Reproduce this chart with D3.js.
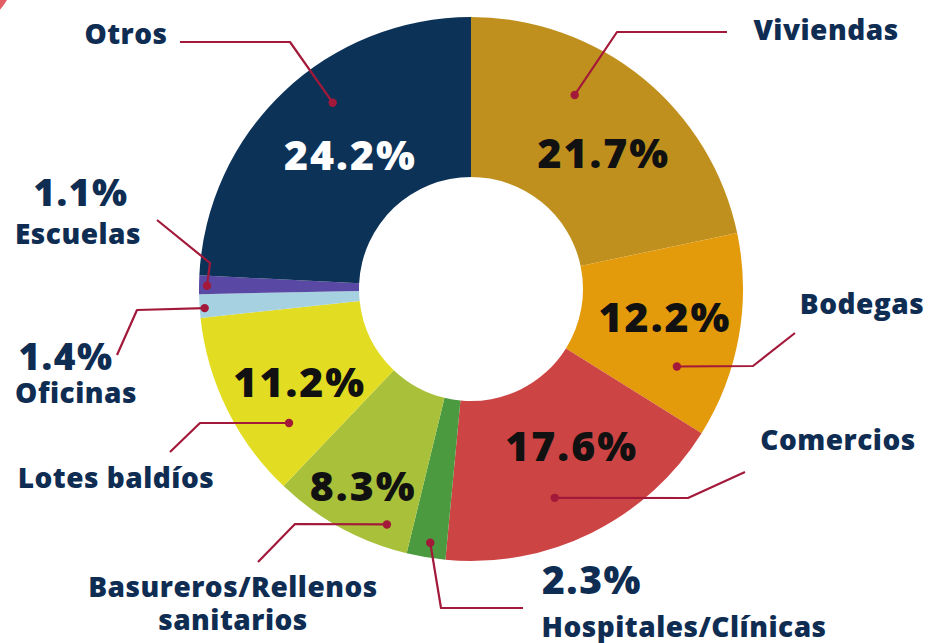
<!DOCTYPE html>
<html>
<head>
<meta charset="utf-8">
<script src="https://cdn.jsdelivr.net/npm/d3@7"></script>
<style>
  html, body { margin: 0; padding: 0; background: #fff; }
  svg { display: block; }
  text { font-family: "Open Sans", Lato, sans-serif; font-weight: 800; }
</style>
</head>
<body>
<svg id="chart"></svg>
<script>
// slice data, clockwise from 12 o'clock
const categories = ["Viviendas", "Bodegas", "Comercios", "Hospitales/Clínicas",
  "Basureros/Rellenos sanitarios", "Lotes baldíos", "Oficinas", "Escuelas", "Otros"];
const values = [21.7, 12.2, 17.6, 2.3, 8.3, 11.2, 1.4, 1.1, 24.2];
const colors = ["#c0901f", "#e39a0b", "#cd4444", "#4b9a3f", "#a8c03a",
  "#e2dc22", "#a6d1e0", "#5a48a5", "#0c3258"];

const width = 930;
const height = 643;
const cx = 471, cy = 289;
const outerR = 272, innerR = 112;

const navy = "#0f2d52";
const leader = "#a3193a";

const svg = d3.select('#chart')
  .attr('width', width)
  .attr('height', height);

// little red arc peeking in at the top-left corner
svg.append('circle')
  .attr('cx', -60).attr('cy', -40).attr('r', 75)
  .attr('fill', 'none')
  .attr('stroke', '#d9363e')
  .attr('stroke-width', 6)
  .attr('opacity', 0.8);

const pie = d3.pie().sort(null).value(d => d.value);
const arcs = pie(categories.map((c, i) => ({ name: c, value: values[i], color: colors[i] })));

const arc = d3.arc().innerRadius(innerR).outerRadius(outerR);

const g = svg.append('g').attr('transform', `translate(${cx},${cy})`);

g.selectAll('path.slice')
  .data(arcs)
  .enter()
  .append('path')
  .attr('class', 'slice')
  .attr('d', arc)
  .attr('fill', d => d.data.color);

// point on the ring: t = fraction along slice, r = radius
function polar(d, t, r) {
  const a = d.startAngle + (d.endAngle - d.startAngle) * t;
  return [r * Math.sin(a), -r * Math.cos(a)];
}

// percentage labels inside the ring (radius + angle nudge in degrees)
const pctLayout = {
  "Viviendas": { r: 190, nudge: 5.3, fill: "#111" },
  "Bodegas": { r: 196, nudge: -1.9, fill: "#111" },
  "Comercios": { r: 187, nudge: -6.3, fill: "#111" },
  "Basureros/Rellenos sanitarios": { r: 225, nudge: 0, fill: "#111" },
  "Lotes baldíos": { r: 195, nudge: -2.3, fill: "#111" },
  "Otros": { r: 180, nudge: 1.5, fill: "#fff" }
};

const fmt = v => v.toFixed(1) + "%";

g.selectAll('text.pct')
  .data(arcs.filter(d => pctLayout[d.data.name]))
  .enter()
  .append('text')
  .attr('class', 'pct')
  .attr('transform', d => {
    const L = pctLayout[d.data.name];
    const a = (d.startAngle + d.endAngle) / 2 + L.nudge * Math.PI / 180;
    return `translate(${L.r * Math.sin(a)},${-L.r * Math.cos(a)})`;
  })
  .attr('dy', '0.36em')
  .attr('text-anchor', 'middle')
  .style('font-size', '41px')
  .style('letter-spacing', '2px')
  .style('fill', d => pctLayout[d.data.name].fill)
  .text(d => fmt(d.data.value));

// leader lines: dot on slice (t, r), then bends in absolute page coords
const leaders = {
  "Viviendas": { t: 0.36, r: 220, pts: [[617, 32], [727, 32]] },
  "Bodegas": { t: 0.74, r: 220, pts: [[753, 366], [795, 333]] },
  "Comercios": { t: 0.57, r: 225, pts: [[688, 498], [745, 472]] },
  "Hospitales/Clínicas": { t: 0.45, r: 257, pts: [[441, 608], [523, 608]] },
  "Basureros/Rellenos sanitarios": { t: 0.2, r: 250, pts: [[295, 524], [258, 562]] },
  "Lotes baldíos": { t: 0.25, r: 226, pts: [[200, 423], [170, 452]] },
  "Oficinas": { t: 0.4, r: 267, pts: [[137, 310], [117, 355]] },
  "Escuelas": { t: 0.45, r: 264, pts: [[210, 263], [157, 220]] },
  "Otros": { t: 0.58, r: 232, pts: [[290, 42], [180, 42]] }
};

const lineGen = d3.line();

arcs.forEach(d => {
  const L = leaders[d.data.name];
  const [dx, dy] = polar(d, L.t, L.r);
  const p0 = [cx + dx, cy + dy];
  svg.append('path')
    .attr('d', lineGen([p0, ...L.pts]))
    .attr('fill', 'none')
    .attr('stroke', leader)
    .attr('stroke-width', 2.2)
    .attr('stroke-linejoin', 'round');
  svg.append('circle')
    .attr('cx', p0[0]).attr('cy', p0[1])
    .attr('r', 4.2)
    .attr('fill', leader);
});

// outside labels
const outside = [
  { name: "Otros", lines: [{ t: "Otros", x: 126, y: 44, s: 28 }] },
  { name: "Viviendas", lines: [{ t: "Viviendas", x: 826, y: 40, s: 28 }] },
  { name: "Bodegas", lines: [{ t: "Bodegas", x: 862, y: 314, s: 28 }] },
  { name: "Comercios", lines: [{ t: "Comercios", x: 838, y: 450, s: 28 }] },
  { name: "Hospitales/Clínicas", lines: [
      { t: fmt(values[3]), x: 592, y: 594, s: 39 },
      { t: "Hospitales/Clínicas", x: 684, y: 637, s: 28 }] },
  { name: "Basureros/Rellenos sanitarios", lines: [
      { t: "Basureros/Rellenos", x: 233, y: 597, s: 28 },
      { t: "sanitarios", x: 233, y: 630, s: 28 }] },
  { name: "Lotes baldíos", lines: [{ t: "Lotes baldíos", x: 116, y: 488, s: 28 }] },
  { name: "Oficinas", lines: [
      { t: fmt(values[6]), x: 66, y: 370, s: 37 },
      { t: "Oficinas", x: 76, y: 403, s: 28 }] },
  { name: "Escuelas", lines: [
      { t: fmt(values[7]), x: 81, y: 206, s: 37 },
      { t: "Escuelas", x: 78, y: 244, s: 28 }] }
];

outside.forEach(o => {
  o.lines.forEach(l => {
    svg.append('text')
      .attr('x', l.x)
      .attr('y', l.y)
      .attr('text-anchor', 'middle')
      .style('font-size', l.s + 'px')
      .style('letter-spacing', l.s > 30 ? '1.5px' : '0.5px')
      .style('fill', navy)
      .text(l.t);
  });
});
</script>
</body>
</html>
